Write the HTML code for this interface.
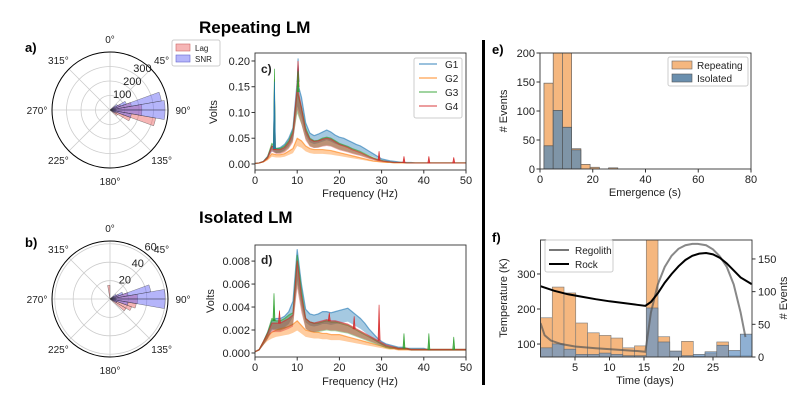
<!DOCTYPE html>
<html><head><meta charset="utf-8"><style>
body{margin:0;background:#fff;}
svg{display:block;font-family:"Liberation Sans","DejaVu Sans",sans-serif;}
</style></head><body>
<svg id="fig" width="796" height="400" viewBox="0 0 796 400" xmlns="http://www.w3.org/2000/svg">
<text x="199" y="33" font-size="17" font-weight="bold">Repeating LM</text>
<text x="199" y="223" font-size="17" font-weight="bold">Isolated LM</text>
<text x="25" y="52" font-size="13" font-weight="bold">a)</text>
<text x="25" y="247" font-size="13" font-weight="bold">b)</text>
<text x="492" y="54" font-size="13" font-weight="bold">e)</text>
<text x="492" y="242" font-size="13" font-weight="bold">f)</text>
<rect x="482" y="40" width="3" height="345" fill="#000"/>
</svg>
<script>
// ---------- DATA ----------
const roseBins = [40,50,60,70,80,90,100,110,120,130,350]; // bin start angles (deg), 10-deg wide
const roseALag = [0,40,80,150,220,220,320,150,60,0,0];
const roseASnr = [0,60,120,360,380,380,150,40,0,0,0];
const roseBLag = [0,5,10,20,30,30,29,25,20,0,15];
const roseBSnr = [0,8,15,45,60,60,20,8,0,0,0];

const freqs = [0,1,2,3,4,5,6,7,8,9,10,11,12,13,14,15,16,17,18,19,20,21,22,23,24,25,26,27,28,29,30,31,32,33,34,35,36,37,38,39,40,41,42,43,44,45,46,47,48,49,50];
const cG1 = [0.001,0.002,0.005,0.015,0.035,0.03,0.032,0.038,0.05,0.07,0.16,0.13,0.08,0.06,0.055,0.058,0.062,0.066,0.062,0.056,0.052,0.05,0.046,0.042,0.038,0.035,0.03,0.025,0.02,0.015,0.01,0.008,0.006,0.005,0.004,0.003,0.003,0.003,0.002,0.002,0.002,0.002,0.002,0.002,0.002,0.002,0.002,0.002,0.002,0.002,0.002];
const cG2 = [0.001,0.002,0.004,0.01,0.02,0.018,0.018,0.02,0.025,0.03,0.05,0.045,0.035,0.03,0.028,0.028,0.028,0.027,0.026,0.024,0.022,0.02,0.018,0.016,0.014,0.012,0.01,0.008,0.006,0.005,0.004,0.003,0.003,0.002,0.002,0.002,0.002,0.002,0.002,0.002,0.002,0.002,0.002,0.002,0.002,0.002,0.002,0.002,0.002,0.002,0.002];
const cG3 = [0.001,0.002,0.005,0.014,0.04,0.03,0.03,0.035,0.045,0.065,0.14,0.11,0.07,0.05,0.045,0.046,0.05,0.052,0.05,0.045,0.04,0.037,0.034,0.03,0.027,0.024,0.02,0.016,0.012,0.009,0.007,0.005,0.004,0.003,0.003,0.003,0.002,0.002,0.002,0.002,0.002,0.002,0.002,0.002,0.002,0.002,0.002,0.002,0.002,0.002,0.002];
const cG4 = [0.001,0.002,0.005,0.013,0.035,0.028,0.028,0.032,0.042,0.06,0.15,0.11,0.065,0.048,0.044,0.045,0.048,0.05,0.048,0.043,0.038,0.035,0.032,0.028,0.025,0.022,0.018,0.014,0.011,0.008,0.006,0.005,0.004,0.003,0.003,0.003,0.002,0.002,0.002,0.002,0.002,0.002,0.002,0.002,0.002,0.002,0.002,0.002,0.002,0.002,0.002];
const cSpikeF = [4.6,4.6,4.6,10.2,10.2,10.2,29.4,35.3,41.2,47.1];
const cSpikeV = [0.165,0.185,0.16,0.205,0.2,0.18,0.025,0.015,0.015,0.013];
const cSpikeS = [3,2,0,0,3,2,3,3,3,3];

const dG1 = [0.0001,0.0003,0.001,0.0018,0.0028,0.003,0.003,0.0032,0.0036,0.0045,0.009,0.006,0.0038,0.0034,0.0033,0.0034,0.0036,0.0036,0.0035,0.0036,0.0037,0.0038,0.0039,0.0036,0.0033,0.003,0.0026,0.0021,0.0017,0.0013,0.001,0.0008,0.0007,0.0006,0.0005,0.0005,0.0004,0.0004,0.0004,0.0004,0.0004,0.0003,0.0003,0.0003,0.0003,0.0003,0.0003,0.0003,0.0003,0.0003,0.0003];
const dG2 = [0.0001,0.0003,0.001,0.0015,0.0018,0.002,0.0021,0.0022,0.0023,0.0025,0.0028,0.0024,0.002,0.0019,0.0018,0.0018,0.0017,0.0017,0.0016,0.0016,0.0016,0.0015,0.0014,0.0013,0.0012,0.0011,0.001,0.0009,0.0008,0.0007,0.0006,0.0005,0.0004,0.0004,0.0003,0.0003,0.0003,0.0003,0.0003,0.0003,0.0003,0.0003,0.0003,0.0003,0.0003,0.0003,0.0003,0.0003,0.0003,0.0003,0.0003];
const dG3 = [0.0001,0.0003,0.001,0.0018,0.003,0.0028,0.0028,0.003,0.0033,0.0035,0.0085,0.0055,0.003,0.0027,0.0026,0.0026,0.0027,0.0028,0.0027,0.0027,0.0026,0.0025,0.0024,0.0022,0.002,0.0018,0.0016,0.0014,0.0012,0.001,0.0008,0.0006,0.0005,0.0005,0.0004,0.0004,0.0004,0.0003,0.0003,0.0003,0.0003,0.0003,0.0003,0.0003,0.0003,0.0003,0.0003,0.0003,0.0003,0.0003,0.0003];
const dG4 = [0.0001,0.0003,0.001,0.0017,0.0026,0.0026,0.0026,0.0028,0.003,0.0033,0.008,0.005,0.003,0.0027,0.0026,0.0027,0.0028,0.0029,0.0028,0.0028,0.0027,0.0026,0.0025,0.0023,0.0021,0.0019,0.0017,0.0015,0.0013,0.0011,0.0009,0.0007,0.0006,0.0005,0.0004,0.0004,0.0004,0.0003,0.0003,0.0003,0.0003,0.0003,0.0003,0.0003,0.0003,0.0003,0.0003,0.0003,0.0003,0.0003,0.0003];
const dSpikeF = [4.5,5.8,17.6,23.5,29.4,35.3,41.2,47.1];
const dSpikeV = [0.0052,0.0037,0.0035,0.0032,0.0042,0.0017,0.0017,0.0014];
const dSpikeS = [2,3,3,3,3,2,2,2];

const eEdges = [1.5,5,8.5,12,15.5,19,22.5,26,29.5];
const eRepeating = [148,210,210,35,8,3,0,2];
const eIsolated = [40,101,72,33,0,0,0,0];

const fBinWidth = 1.703;
const fOrange = [60,107,98,52,37,33,29,14,17,200,31,9,24,1,6,23,2,2];
const fBlue = [14,20,12,4,4,6,4,2,2,75,23,9,2,4,8,18,10,35];
const rockDays = [0,2,4,6,8,10,12,14,15.2,16,17,18,19,20,21,22,23,24,25,26,27,28,29,30.6];
const rockTemp = [265,252,242,235,228,222,217,212,209,220,245,275,300,322,340,352,358,360,356,346,330,310,290,271];
const regDays = [0,0.6,1.5,3,5,8,11,14,15.2,16,17,18,19,20,21,22,22.8,24,25,26,27,28,29,29.7];
const regTemp = [160,125,110,100,93,88,84,80,78,190,270,320,352,372,382,386,386,382,370,350,320,270,190,120];

// ---------- HELPERS ----------
const NS = "http://www.w3.org/2000/svg";
const svg = document.getElementById('fig');
function mk(tag, attrs, parent){const e=document.createElementNS(NS,tag);for(const k in attrs)e.setAttribute(k,attrs[k]);(parent||svg).appendChild(e);return e;}
function txt(x,y,s,size,anchor,parent,rot){const t=mk('text',{x:x,y:y,'font-size':size,'text-anchor':anchor||'start',fill:'#222'},parent);if(rot)t.setAttribute('transform','rotate(-90 '+x+' '+y+')');t.textContent=s;return t;}
function lin(d0,d1,r0,r1){return v=>r0+(v-d0)*(r1-r0)/(d1-d0);}

// ---------- ROSE ----------
function rose(cx,cy,R,rmax,rings,lag,snr,tag){
  const g=mk('g',{});
  
  
  const rs=lin(0,rmax,0,R);
  rings.forEach(v=>{const c=mk('circle',{cx:cx,cy:cy,r:rs(v),fill:'none',stroke:'#ccc','stroke-width':0.8},g);
    
    });
  for(let a=0;a<360;a+=45){const t=a*Math.PI/180;const l=mk('line',{x1:cx,y1:cy,x2:cx+R*Math.sin(t),y2:cy-R*Math.cos(t),stroke:'#ccc','stroke-width':0.8},g);
    
    
    const lt=txt(cx+(R+15)*Math.sin(t),cy-(R+13)*Math.cos(t)+4,a+'°',10,'middle',g);
    
    }
  function wedge(a0,v,fill,nm){const r=rs(v);if(r<=0)return;const t0=a0*Math.PI/180,t1=(a0+10)*Math.PI/180;
    const p=mk('path',{d:`M${cx},${cy}L${cx+r*Math.sin(t0)},${cy-r*Math.cos(t0)}A${r},${r} 0 0 1 ${cx+r*Math.sin(t1)},${cy-r*Math.cos(t1)}Z`,fill:fill,stroke:'#333','stroke-width':0.5,'stroke-opacity':0.6},g);
    
    }
  roseBins.forEach((a,i)=>wedge(a,lag[i],'rgba(235,90,90,0.45)','lag-wedge'));
  roseBins.forEach((a,i)=>wedge(a,snr[i],'rgba(90,90,245,0.45)','snr-wedge'));
  const oc=mk('circle',{cx:cx,cy:cy,r:R,fill:'none',stroke:'#000','stroke-width':1},g);
  
  
  rings.forEach(v=>{const r=rs(v);const t=txt(cx+0.7*r+2,cy-0.9*r+1,String(v),11,'middle',g);
    
    });
}
rose(110,110,58,400,[100,200,300],roseALag,roseASnr,'a');
rose(110,299,58,63,[20,40,60],roseBLag,roseBSnr,'b');
// legend a
{const g=mk('g',{});
 
 
 mk('rect',{x:172,y:40,width:48,height:26,fill:'#fff',stroke:'#ccc',rx:2},g);
 mk('rect',{x:176,y:44,width:14,height:7,fill:'rgba(235,90,90,0.45)',stroke:'#c66','stroke-width':0.6},g);
 mk('rect',{x:176,y:55,width:14,height:7,fill:'rgba(90,90,245,0.45)',stroke:'#66c','stroke-width':0.6},g);
 const l1=txt(195,51,'Lag',8,'start',g);
 
 
 const l2=txt(195,62,'SNR',8,'start',g);
 
 }

// ---------- AXES ----------
function axesBox(x0,y0,x1,y1,name){const r=mk('rect',{x:x0,y:y0,width:x1-x0,height:y1-y0,fill:'none',stroke:'#333','stroke-width':0.9});
  
  }
function xticks(vals,sx,y,labels){vals.forEach((v,i)=>{mk('line',{x1:sx(v),x2:sx(v),y1:y,y2:y+3.5,stroke:'#333'});
  const t=txt(sx(v),y+14,labels[i],11,'middle');
  
  });}
function yticks(vals,sy,x,labels,right){vals.forEach((v,i)=>{mk('line',{x1:x,x2:right?x+3.5:x-3.5,y1:sy(v),y2:sy(v),stroke:'#333'});
  const t=txt(right?x+6:x-5,sy(v)+4,labels[i],11,right?'start':'end');
  
  });}
const colors=['#1f77b4','#ff7f0e','#2ca02c','#d62728'];

function spectrum(y0,y1,ymin,ymax,series,spF,spV,spS,ticks,tlabels,tag,bw){
  const sx=lin(0,50,255,466), sy=lin(ymin,ymax,y1,y0);
  const cp=mk('clipPath',{id:'clip'+tag});mk('rect',{x:255,y:y0,width:211,height:y1-y0},cp);
  const g=mk('g',{'clip-path':'url(#clip'+tag+')'});
  
  
  series.forEach((s,k)=>{const pts=freqs.map((f,i)=>sx(f)+','+sy(s[i])).join(' ');
    const lo=freqs.map((f,i)=>sx(f)+','+sy(s[i]*0.7)).reverse().join(' ');
    const a=mk('polygon',{points:pts+' '+lo,fill:colors[k],'fill-opacity':0.4},g);
    
    
    const p=mk('polyline',{points:pts,fill:'none',stroke:colors[k],'stroke-width':bw,'stroke-opacity':0.6,'stroke-linejoin':'round'},g);
    
    });
  spF.forEach((f,i)=>{const s=series[spS[i]];const base=s[Math.round(f)];
    const p=mk('polygon',{points:`${sx(f-0.25)},${sy(base)} ${sx(f)},${sy(spV[i])} ${sx(f+0.25)},${sy(base)}`,fill:colors[spS[i]],'fill-opacity':0.75,stroke:colors[spS[i]],'stroke-width':0.6},g);
    
    });
  axesBox(255,y0,466,y1,'spectrum-axes-'+tag);
  xticks([0,10,20,30,40,50],sx,y1,['0','10','20','30','40','50']);
  yticks(ticks,sy,255,tlabels);
  return {sx,sy};
}
spectrum(53,170,-0.0117,0.2155,[cG1,cG2,cG3,cG4],cSpikeF,cSpikeV,cSpikeS,[0,0.05,0.1,0.15,0.2],['0.00','0.05','0.10','0.15','0.20'],'c',1.2);
spectrum(245,357,-0.00035,0.0094,[dG1,dG2,dG3,dG4],dSpikeF,dSpikeV,dSpikeS,[0,0.002,0.004,0.006,0.008],['0.000','0.002','0.004','0.006','0.008'],'d',1.2);
{const t=txt(360,197,'Frequency (Hz)',11,'middle');
 const t2=txt(360,385,'Frequency (Hz)',11,'middle');
 const t3=txt(217,112,'Volts',11,'middle',null,true);
 const t4=txt(214,301,'Volts',11,'middle',null,true);
 const c=txt(261,73,'c)',12,'start');c.setAttribute('font-weight','bold');
 const d=txt(261,264,'d)',12,'start');d.setAttribute('font-weight','bold');
 const lg=mk('g',{});
 mk('rect',{x:414,y:58,width:48,height:60,fill:'#fff','fill-opacity':0.85,stroke:'#ccc',rx:2},lg);
 ['G1','G2','G3','G4'].forEach((n,i)=>{mk('line',{x1:419,x2:437,y1:64+i*14,y2:64+i*14,stroke:colors[i],'stroke-width':1.4,'stroke-opacity':0.6},lg);
   const t=txt(445,68+i*14,n,10,'start',lg);});}

// ---------- PANEL E ----------
{const sx=lin(0,80,540,751), sy=lin(0,200,169,53);
 const cp=mk('clipPath',{id:'clipE'});mk('rect',{x:540,y:53,width:211,height:116},cp);
 const g=mk('g',{'clip-path':'url(#clipE)'});
 
 
 eRepeating.forEach((v,i)=>{if(!v)return;const r=mk('rect',{x:sx(eEdges[i]),y:sy(v),width:sx(eEdges[i+1])-sx(eEdges[i]),height:sy(0)-sy(v),fill:'#f5b77f',stroke:'#666','stroke-width':0.7},g);
   
   });
 eIsolated.forEach((v,i)=>{if(!v)return;const r=mk('rect',{x:sx(eEdges[i]),y:sy(v),width:sx(eEdges[i+1])-sx(eEdges[i]),height:sy(0)-sy(v),fill:'#6a8fae','fill-opacity':0.85,stroke:'#555','stroke-width':0.7},g);
   
   });
 axesBox(540,53,751,169,'emergence-axes');
 xticks([0,20,40,60,80],sx,169,['0','20','40','60','80']);
 yticks([0,50,100,150,200],sy,540,['0','50','100','150','200']);
 const t=txt(645,196,'Emergence (s)',11,'middle');
 const t2=txt(507,111,'# Events',11,'middle',null,true);
 const lg=mk('g',{});
 mk('rect',{x:668,y:57,width:80,height:29,fill:'#fff',stroke:'#ccc',rx:2},lg);
 mk('rect',{x:672,y:61,width:20,height:8,fill:'#f5b77f',stroke:'#666','stroke-width':0.6},lg);
 mk('rect',{x:672,y:74,width:20,height:8,fill:'#6a8fae',stroke:'#555','stroke-width':0.6},lg);
 const a=txt(697,69,'Repeating',10,'start',lg);
 const b=txt(697,82,'Isolated',10,'start',lg);}

// ---------- PANEL F ----------
{const sx=lin(0,30.65,540.5,752), sy=lin(63,397,357,240), se=lin(0,179,357,240);
 const cp=mk('clipPath',{id:'clipF'});mk('rect',{x:540.5,y:240,width:211.5,height:117},cp);
 const g=mk('g',{'clip-path':'url(#clipF)'});
 
 
 fOrange.forEach((v,i)=>{const x0=sx(i*fBinWidth),x1=sx((i+1)*fBinWidth);const r=mk('rect',{x:x0,y:se(v),width:x1-x0,height:se(0)-se(v),fill:'#f5b77f',stroke:'#777','stroke-width':0.6},g);
   
   });
 fBlue.forEach((v,i)=>{const x0=sx(i*fBinWidth),x1=sx((i+1)*fBinWidth);const r=mk('rect',{x:x0,y:se(v),width:x1-x0,height:se(0)-se(v),fill:'#6a96c4','fill-opacity':0.75,stroke:'#666','stroke-width':0.6},g);
   
   });
 const rg=mk('polyline',{points:regDays.map((d,i)=>sx(d)+','+sy(regTemp[i])).join(' '),fill:'none',stroke:'#555','stroke-opacity':0.7,'stroke-width':2},g);
 
 
 const rk=mk('polyline',{points:rockDays.map((d,i)=>sx(d)+','+sy(rockTemp[i])).join(' '),fill:'none',stroke:'#000','stroke-width':2},g);
 
 
 axesBox(540.5,240,752,357,'temperature-axes');
 xticks([5,10,15,20,25],sx,357,['5','10','15','20','25']);
 yticks([100,200,300],sy,540.5,['100','200','300']);
 yticks([0,50,100,150],se,752,['0','50','100','150'],true);
 const t=txt(645,384,'Time (days)',11,'middle');
 const t2=txt(507,298,'Temperature (K)',11,'middle',null,true);
 const t3=txt(787,298,'# Events',11,'middle',null,true);
 const lg=mk('g',{});
 mk('rect',{x:545,y:240,width:68,height:32,fill:'#fff',stroke:'#ccc',rx:2},lg);
 mk('line',{x1:549,x2:569,y1:250,y2:250,stroke:'#777','stroke-width':2},lg);
 mk('line',{x1:549,x2:569,y1:264,y2:264,stroke:'#000','stroke-width':2},lg);
 const a=txt(575,254,'Regolith',10,'start',lg);
 const b=txt(575,268,'Rock',10,'start',lg);}
</script>
</body></html>
